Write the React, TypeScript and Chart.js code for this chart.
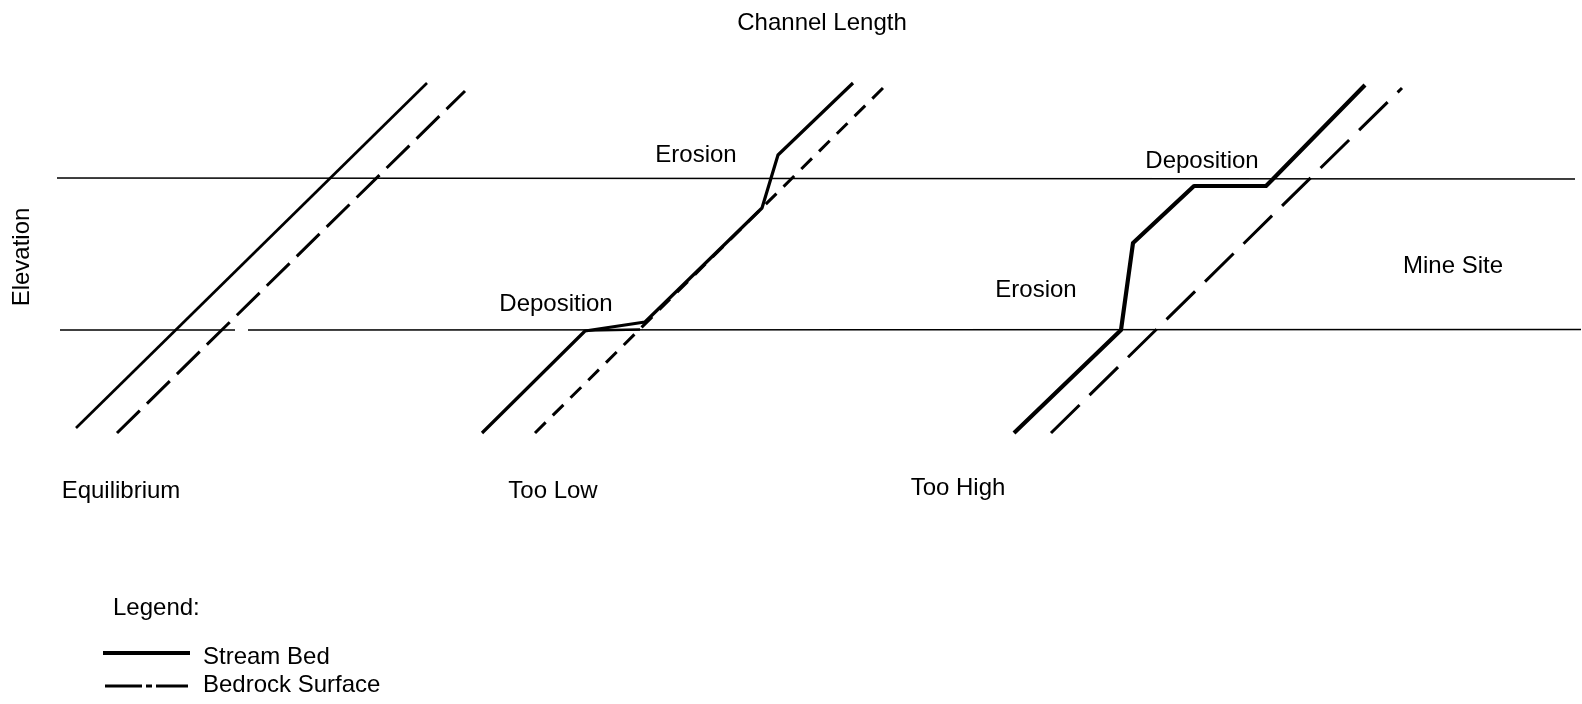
import React, { useEffect, useRef } from "react";
import { Chart, registerables } from "chart.js";

Chart.register(...registerables);

// Horizontal coordinate = channel length, vertical = elevation (arbitrary units)
const equilibriumBedX = [76, 427];
const equilibriumBedY = [276, 621];
const equilibriumRockX = [117, 465];
const equilibriumRockY = [271, 613];

const tooLowBedX = [482, 585, 645, 762, 778, 853];
const tooLowBedY = [271, 373, 382, 496, 549, 621];
const tooLowWedgeX = [588, 640];
const tooLowWedgeY = [373.5, 374.5];
const tooLowRockX = [535, 887];
const tooLowRockY = [271, 620];

const tooHighBedX = [1014, 1121, 1133, 1194, 1266, 1272, 1365];
const tooHighBedY = [271, 374, 461, 518, 518, 524, 619];
const tooHighRockX = [1051, 1402];
const tooHighRockY = [271, 616];

const upperLevelX = [57, 1575];
const upperLevelY = [526, 525];
const lowerLevelAX = [60, 235];
const lowerLevelAY = [374, 374];
const lowerLevelBX = [248, 1581];
const lowerLevelBY = [374, 374.5];

const legendStreamX = [103, 190];
const legendStreamY = [51, 51];
const legendRockX = [105, 188];
const legendRockY = [18, 18];

const labelTexts = [
  "Channel Length",
  "Elevation",
  "Erosion",
  "Deposition",
  "Deposition",
  "Erosion",
  "Mine Site",
  "Equilibrium",
  "Too Low",
  "Too High",
  "Legend:",
  "Stream Bed",
  "Bedrock Surface",
];
const labelX = [822, 22, 696, 556, 1202, 1036, 1453, 121, 553, 958, 113, 203, 203];
const labelY = [681, 447, 549, 400, 543, 414, 438, 213, 213, 216, 96, 47, 19];

const pts = (xs: number[], ys: number[]) => xs.map((x, i) => ({ x, y: ys[i] }));

const FONT = '24px "Liberation Sans", Arial, Helvetica, sans-serif';

const textPlugin = {
  id: "diagramText",
  afterDatasetsDraw(chart: any) {
    const ctx = chart.ctx;
    const xs = chart.scales.x;
    const ys = chart.scales.y;
    ctx.save();
    ctx.fillStyle = "#000";
    ctx.font = FONT;
    ctx.textBaseline = "middle";
    labelTexts.forEach((t, i) => {
      const px = xs.getPixelForValue(labelX[i]);
      const py = ys.getPixelForValue(labelY[i]);
      const leftAligned = t === "Legend:" || t === "Stream Bed" || t === "Bedrock Surface";
      ctx.save();
      ctx.translate(px, py);
      if (t === "Elevation") ctx.rotate(-Math.PI / 2);
      ctx.textAlign = leftAligned ? "left" : "center";
      ctx.fillText(t, 0, 0);
      ctx.restore();
    });
    ctx.restore();
  },
};

export default function App() {
  const ref = useRef<HTMLCanvasElement | null>(null);

  useEffect(() => {
    if (!ref.current) return;
    const base = {
      showLine: true,
      pointRadius: 0,
      pointHoverRadius: 0,
      borderColor: "#000",
      backgroundColor: "#000",
      fill: false,
      tension: 0,
      borderJoinStyle: "round" as const,
    };
    const chart = new Chart(ref.current, {
      type: "scatter",
      data: {
        datasets: [
          { ...base, label: "Upper level", data: pts(upperLevelX, upperLevelY), borderWidth: 1.6 },
          { ...base, label: "Lower level", data: pts(lowerLevelAX, lowerLevelAY), borderWidth: 1.6 },
          { ...base, label: "Lower level b", data: pts(lowerLevelBX, lowerLevelBY), borderWidth: 1.6 },
          { ...base, label: "Equilibrium stream bed", data: pts(equilibriumBedX, equilibriumBedY), borderWidth: 2.7 },
          { ...base, label: "Equilibrium bedrock", data: pts(equilibriumRockX, equilibriumRockY), borderWidth: 3, borderDash: [32, 10] },
          { ...base, label: "Too low stream bed", data: pts(tooLowBedX, tooLowBedY), borderWidth: 3.2 },
          { ...base, label: "Too low deposit", data: pts(tooLowWedgeX, tooLowWedgeY), borderWidth: 2.5 },
          { ...base, label: "Too low bedrock", data: pts(tooLowRockX, tooLowRockY), borderWidth: 3, borderDash: [15, 10] },
          { ...base, label: "Too high stream bed", data: pts(tooHighBedX, tooHighBedY), borderWidth: 4.2 },
          { ...base, label: "Too high bedrock", data: pts(tooHighRockX, tooHighRockY), borderWidth: 3, borderDash: [40, 14] },
          { ...base, label: "Stream Bed", data: pts(legendStreamX, legendStreamY), borderWidth: 4 },
          { ...base, label: "Bedrock Surface", data: pts(legendRockX, legendRockY), borderWidth: 3, borderDash: [37, 4, 6, 4, 60] },
        ],
      },
      options: {
        animation: false,
        responsive: false,
        devicePixelRatio: 1,
        layout: { padding: 0 },
        plugins: {
          legend: { display: false },
          tooltip: { enabled: false },
          title: { display: false },
        },
        events: [],
        scales: {
          x: { type: "linear", min: 0, max: 1582, display: false },
          y: { type: "linear", min: 0, max: 704, display: false },
        },
      },
      plugins: [textPlugin],
    });
    return () => chart.destroy();
  }, []);

  return (
    <canvas
      ref={ref}
      width={1582}
      height={704}
      style={{ position: "fixed", left: 0, top: 0, width: 1582, height: 704, display: "block", background: "#fff" }}
    />
  );
}
